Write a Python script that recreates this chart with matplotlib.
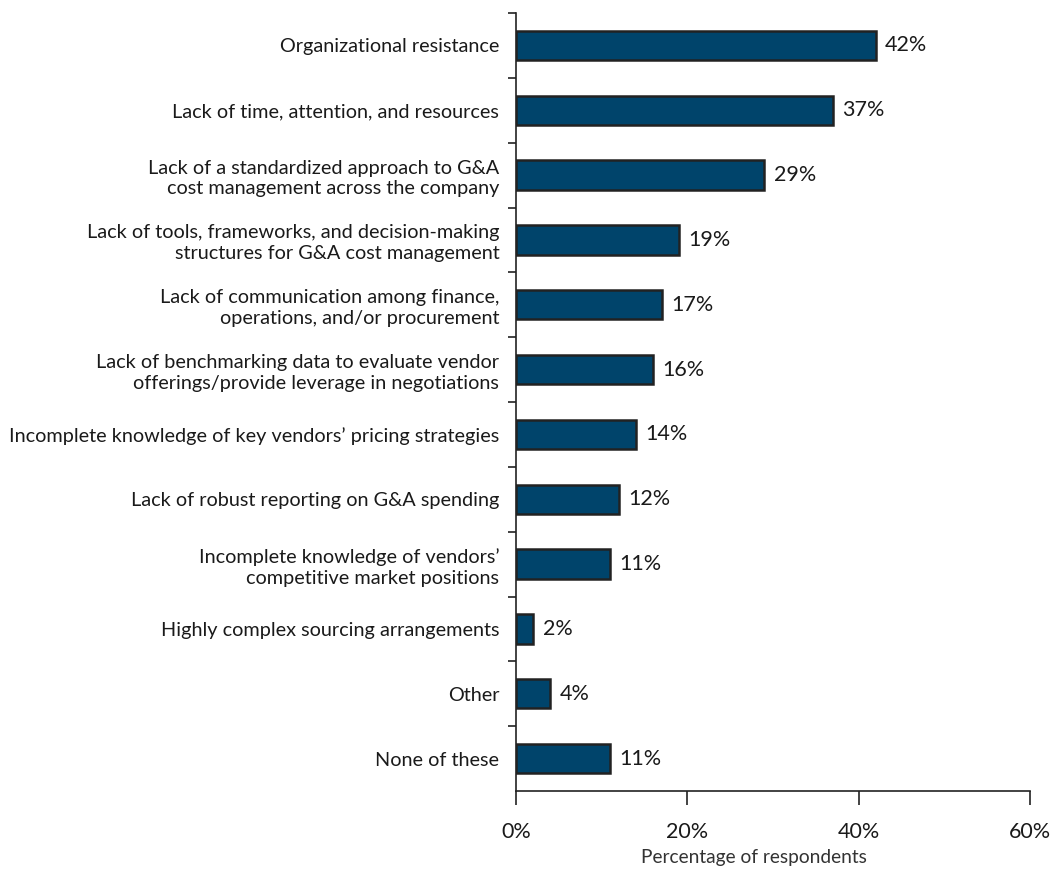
import matplotlib
matplotlib.use("Agg")
import matplotlib.pyplot as plt
import numpy as np
from matplotlib.ticker import FixedLocator, FuncFormatter

plt.rcParams['font.family'] = ['Lato', 'DejaVu Sans']

categories = [
    "Organizational resistance",
    "Lack of time, attention, and resources",
    "Lack of a standardized approach to G&A\ncost management across the company",
    "Lack of tools, frameworks, and decision-making\nstructures for G&A cost management",
    "Lack of communication among finance,\noperations, and/or procurement",
    "Lack of benchmarking data to evaluate vendor\nofferings/provide leverage in negotiations",
    "Incomplete knowledge of key vendors\u2019 pricing strategies",
    "Lack of robust reporting on G&A spending",
    "Incomplete knowledge of vendors\u2019\ncompetitive market positions",
    "Highly complex sourcing arrangements",
    "Other",
    "None of these",
]
values = [42, 37, 29, 19, 17, 16, 14, 12, 11, 2, 4, 11]
x_ticks = [0, 20, 40, 60]

bar_color = "#00446B"
text_color = "#1a1a1a"

fig = plt.figure(figsize=(10.52, 8.69), dpi=100)
ax = fig.add_axes([516 / 1052, 78 / 869, 514 / 1052, 778 / 869])

n = len(categories)
y = np.arange(n)
ax.barh(y, values, height=0.45, color=bar_color, edgecolor="#222222", linewidth=1.8, zorder=3)

for yi, v in zip(y, values):
    ax.text(v + 1.1, yi, f"{v}%", va="center", ha="left", fontsize=15.5, color=text_color)

ax.set_xlim(0, 60)
ax.set_ylim(n - 0.5, -0.5)

ax.set_yticks(y)
ax.set_yticklabels(categories, fontsize=14.3, color=text_color, linespacing=1.25)
ax.yaxis.set_minor_locator(FixedLocator(np.arange(-0.5, n - 0.5, 1.0)))
ax.tick_params(axis="y", which="major", length=0, pad=12)
ax.tick_params(axis="y", which="minor", length=6, width=1.2, color="#222222")

ax.set_xticks(x_ticks)
ax.xaxis.set_major_formatter(FuncFormatter(lambda v, p: f"{v:.0f}%"))
ax.tick_params(axis="x", length=10, width=1.2, color="#222222", pad=12,
               labelsize=15.5, labelcolor=text_color)

ax.set_xlabel("Percentage of respondents", fontsize=13.8, color="#333333")
ax.xaxis.set_label_coords(0.463, -0.075)

for side in ["top", "right"]:
    ax.spines[side].set_visible(False)
for side in ["left", "bottom"]:
    ax.spines[side].set_linewidth(1.2)
    ax.spines[side].set_color("#222222")

fig.savefig("out.png", dpi=100)
